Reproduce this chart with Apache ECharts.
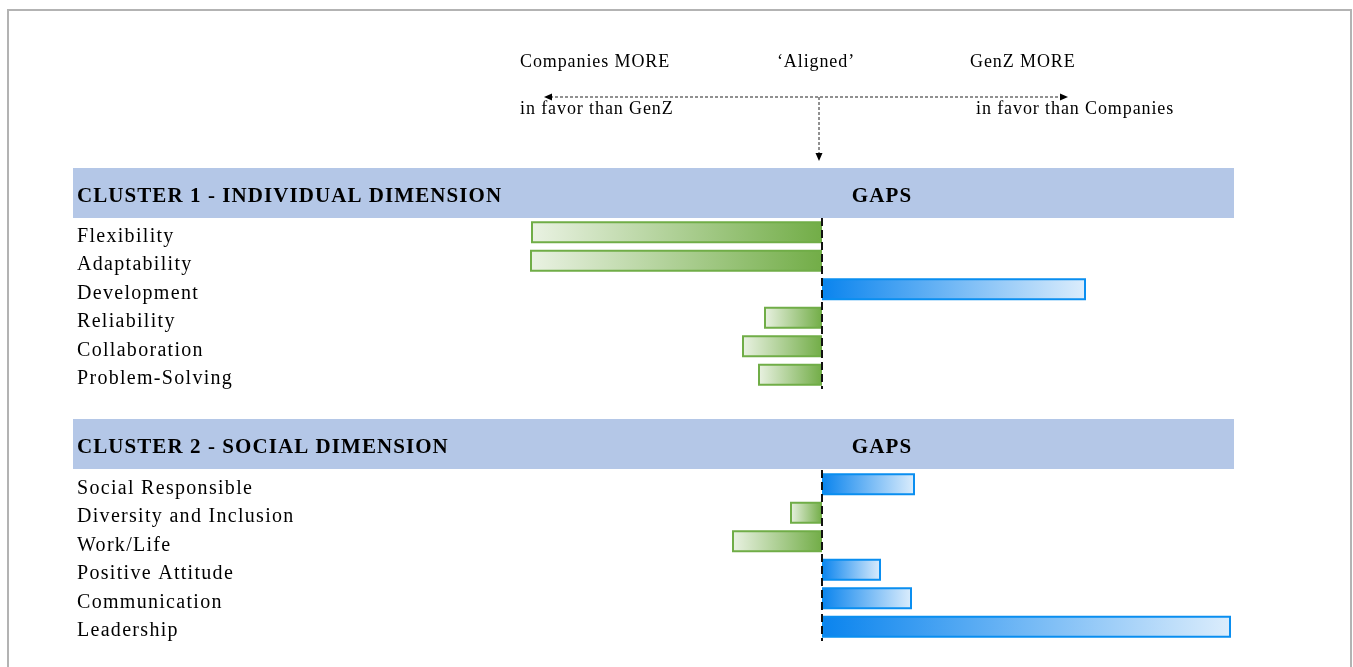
<!DOCTYPE html>
<html>
<head>
<meta charset="utf-8">
<title>Skill gaps: Companies vs GenZ</title>
<script src="https://cdn.jsdelivr.net/npm/echarts@6/dist/echarts.min.js"></script>
<style>
  html, body { margin: 0; padding: 0; background: #fff; }
  #chart { width: 1353px; height: 667px; }
</style>
</head>
<body>
<div id="chart"></div>
<script>
// Gap per skill: negative = Companies more in favor, positive = GenZ more in favor
const cluster1Skills = ['Flexibility', 'Adaptability', 'Development', 'Reliability', 'Collaboration', 'Problem-Solving'];
const cluster1Gaps = [-29.1, -29.2, 26.4, -5.8, -8.0, -6.4];

const cluster2Skills = ['Social Responsible', 'Diversity and Inclusion', 'Work/Life', 'Positive Attitude', 'Communication', 'Leadership'];
const cluster2Gaps = [9.3, -3.2, -9.0, 5.9, 9.0, 40.9];

const gapMin = -30;
const gapMax = 41.2;

const serif = "'Liberation Serif', 'Times New Roman', serif";

// Slightly tracked-out lettering: spacing chosen by the text's font
const baseFillText = CanvasRenderingContext2D.prototype.fillText;
CanvasRenderingContext2D.prototype.fillText = function (text, x, y, maxWidth) {
  const f = this.font || '';
  this.letterSpacing = f.indexOf('bold') >= 0 ? '1.07px' : (f.indexOf('18px') >= 0 ? '0.9px' : '1.3px');
  const r = maxWidth === undefined ? baseFillText.call(this, text, x, y) : baseFillText.call(this, text, x, y, maxWidth);
  this.letterSpacing = '0px';
  return r;
};

function gradient(stops) {
  return new echarts.graphic.LinearGradient(0, 0, 1, 0, stops);
}
const greenFill = gradient([{ offset: 0, color: '#eaf2e3' }, { offset: 1, color: '#72ad47' }]);
const blueFill = gradient([{ offset: 0, color: '#0a84ee' }, { offset: 1, color: '#dcedfc' }]);

function barItems(values) {
  return values.map(v => ({
    value: v,
    itemStyle: v < 0
      ? { color: greenFill, borderColor: '#70ad47', borderWidth: 2 }
      : { color: blueFill, borderColor: '#0a8ef0', borderWidth: 2 }
  }));
}

const zeroLine = {
  silent: true,
  symbol: 'none',
  label: { show: false },
  lineStyle: { type: 'dashed', color: '#111', width: 2 },
  data: [{ xAxis: 0 }]
};

function yAxisFor(idx, skills) {
  return {
    type: 'category',
    gridIndex: idx,
    inverse: true,
    data: skills,
    axisLine: { show: false },
    axisTick: { show: false },
    splitLine: { show: false },
    axisLabel: {
      align: 'left',
      verticalAlign: 'top',
      lineHeight: 8,
      margin: 445,
      fontFamily: serif,
      fontSize: 20,
      color: '#000'
    }
  };
}

function xAxisFor(idx) {
  return { type: 'value', gridIndex: idx, min: gapMin, max: gapMax, show: false, splitLine: { show: false } };
}

function header(y, title) {
  return [
    { type: 'rect', shape: { x: 73, y: y, width: 1161, height: 50 }, style: { fill: '#b4c7e7' }, z: -1 },
    { type: 'text', x: 77, y: y + 28.5, style: { text: title, font: 'bold 21px ' + serif, fill: '#000', textVerticalAlign: 'middle' } },
    { type: 'text', x: 882, y: y + 28.5, style: { text: 'GAPS', font: 'bold 21px ' + serif, fill: '#000', textAlign: 'center', textVerticalAlign: 'middle' } }
  ];
}

function note(x, y, text, align) {
  return { type: 'text', x: x, y: y, style: { text: text, font: '18px ' + serif, fill: '#000', textAlign: align || 'left', textVerticalAlign: 'middle' } };
}

const dashed = { stroke: '#222', lineWidth: 1, lineDash: [3, 2] };

const chart = echarts.init(document.getElementById('chart'));
chart.setOption({
  animation: false,
  backgroundColor: '#fff',
  grid: [
    { left: 522, width: 712, top: 218, height: 171 },
    { left: 522, width: 712, top: 470, height: 171 }
  ],
  xAxis: [xAxisFor(0), xAxisFor(1)],
  yAxis: [yAxisFor(0, cluster1Skills), yAxisFor(1, cluster2Skills)],
  series: [
    { type: 'bar', xAxisIndex: 0, yAxisIndex: 0, barWidth: 22, data: barItems(cluster1Gaps), markLine: zeroLine },
    { type: 'bar', xAxisIndex: 1, yAxisIndex: 1, barWidth: 22, data: barItems(cluster2Gaps), markLine: zeroLine }
  ],
  graphic: [
    // outer frame
    { type: 'rect', shape: { x: 8, y: 10, width: 1343, height: 700 }, style: { fill: null, stroke: '#b3b3b3', lineWidth: 2 }, z: -2 },
    ...header(168, 'CLUSTER 1 - INDIVIDUAL DIMENSION'),
    ...header(419, 'CLUSTER 2 - SOCIAL DIMENSION'),
    // direction legend
    note(520, 62, 'Companies MORE'),
    note(816, 62, '\u2018Aligned\u2019', 'center'),
    note(970, 62, 'GenZ MORE'),
    note(520, 109, 'in favor than GenZ'),
    note(976, 109, 'in favor than Companies'),
    { type: 'line', shape: { x1: 550, y1: 97, x2: 1062, y2: 97 }, style: dashed },
    { type: 'line', shape: { x1: 819, y1: 97, x2: 819, y2: 154 }, style: dashed },
    { type: 'polygon', shape: { points: [[544, 97], [552, 93.5], [552, 100.5]] }, style: { fill: '#000' } },
    { type: 'polygon', shape: { points: [[1068, 97], [1060, 93.5], [1060, 100.5]] }, style: { fill: '#000' } },
    { type: 'polygon', shape: { points: [[819, 161], [815.5, 153], [822.5, 153]] }, style: { fill: '#000' } }
  ]
});
</script>
</body>
</html>
